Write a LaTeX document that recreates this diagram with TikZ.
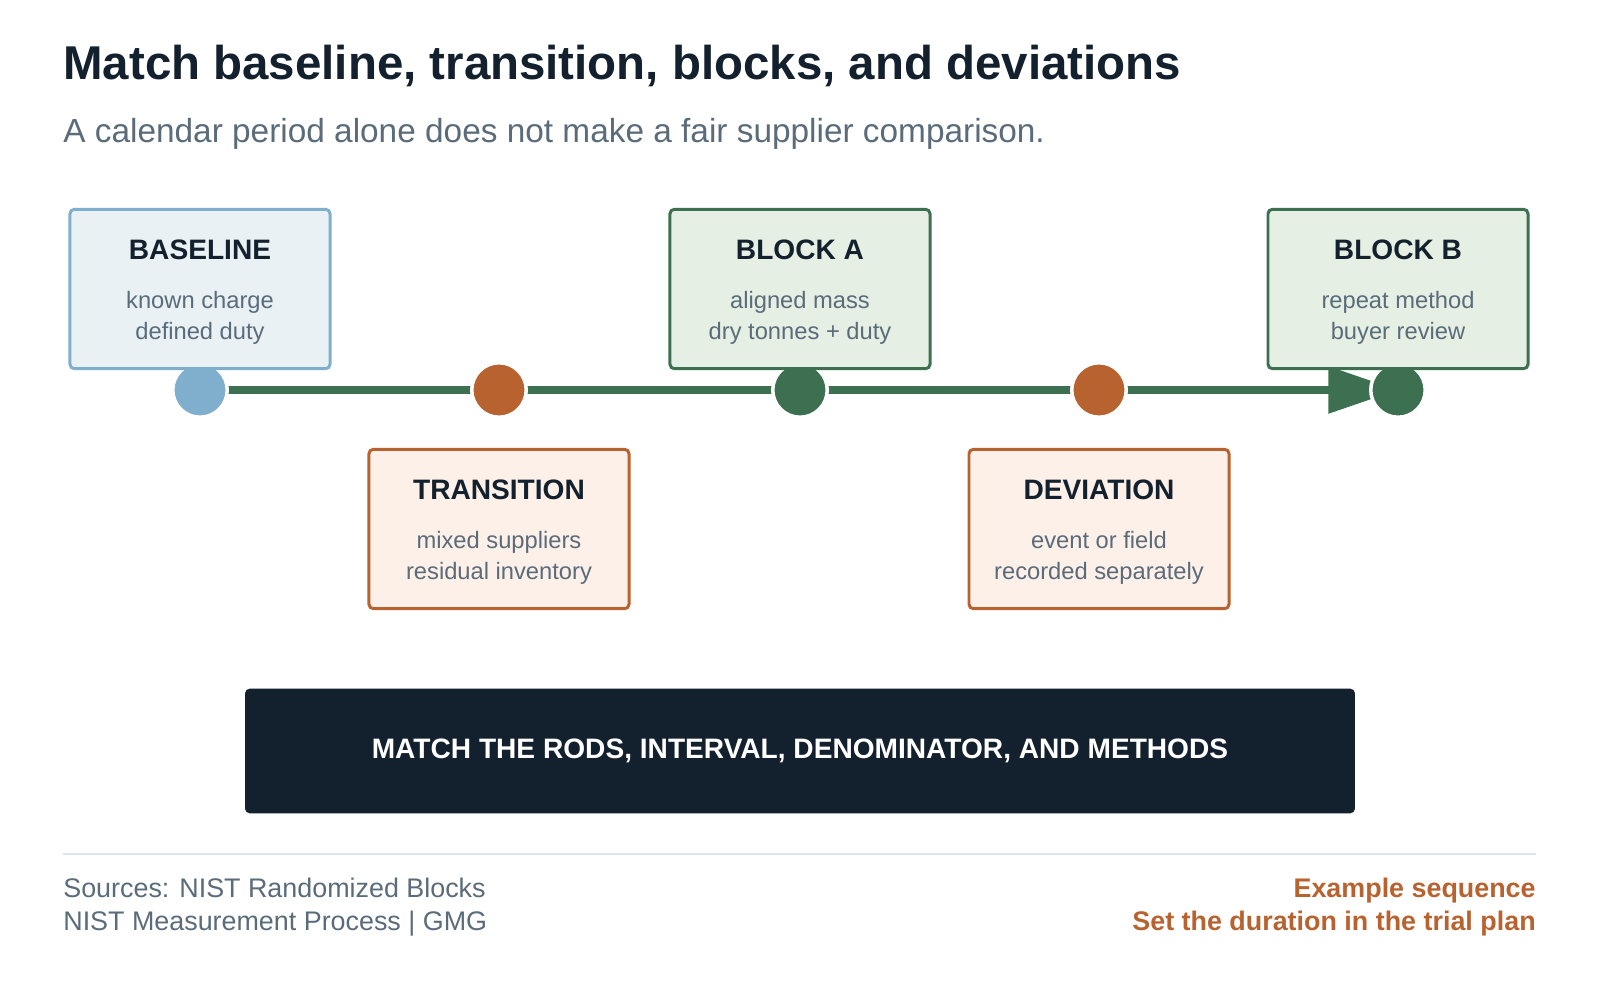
\documentclass[tikz,border=0pt]{standalone}
\usepackage{fontspec}
\setmainfont{Liberation Sans}
\usetikzlibrary{arrows.meta}
\definecolor{Ink}{HTML}{13202D}
\definecolor{Slate}{HTML}{5A6B7A}
\definecolor{SkyLine}{HTML}{7FAFCD}
\definecolor{SkyFill}{HTML}{E9F1F5}
\definecolor{LeafLine}{HTML}{3D7050}
\definecolor{LeafFill}{HTML}{E6EFE3}
\definecolor{RustLine}{HTML}{B8622F}
\definecolor{RustFill}{HTML}{FDF0E8}
\definecolor{Rule}{HTML}{DDE3EA}

\begin{document}
\begin{tikzpicture}[x=0.02cm, y=-0.02cm]
	\tikzset{every node/.style={inner sep=0pt},
		stage/.style={draw, line width=1.7pt, rounded corners=2.5pt, minimum width=148pt, minimum height=160*0.567pt},
		dot/.style={circle, draw=white, line width=2pt, minimum size=31pt},
		head/.style={font=\bfseries\fontsize{16}{19}\selectfont, text=Ink},
		body/.style={font=\fontsize{13.5}{18}\selectfont, text=Slate, align=center}};
	\useasboundingbox (0,0) rectangle (1600,1000);
	% heading
	\node [anchor=west, font=\bfseries\fontsize{27}{32}\selectfont, text=Ink] (title) at (63,66) {Match baseline, transition, blocks, and deviations};
	\node [anchor=west, font=\fontsize{19}{23}\selectfont, text=Slate] (subtitle) at (63,134) {A calendar period alone does not make a fair supplier comparison.};
	% timeline
	\coordinate (c1) at (200,390);
	\coordinate (c5) at (1398,390);
	\draw [LeafLine, line width=4pt, -{Triangle[length=39.7pt, width=26pt]}] (c1) -- (c5);
	% dots
	\node [dot, fill=SkyLine] (d1) at (c1) {};
	\node [dot, fill=RustLine] (d2) at (499,390) {};
	\node [dot, fill=LeafLine] (d3) at (800,390) {};
	\node [dot, fill=RustLine] (d4) at (1099,390) {};
	\node [dot, fill=LeafLine] (d5) at (c5) {};
	% stage boxes
	\node [stage, draw=SkyLine, fill=SkyFill] (base) at (200,289) {};
	\node [stage, draw=RustLine, fill=RustFill] (trans) at (499,529) {};
	\node [stage, draw=LeafLine, fill=LeafFill] (blka) at (800,289) {};
	\node [stage, draw=RustLine, fill=RustFill] (dev) at (1099,529) {};
	\node [stage, draw=LeafLine, fill=LeafFill] (blkb) at (1398,289) {};
	% box texts
	\node [head] (tbase) at (200,250) {BASELINE};
	\node [body] (bbase) at (200,318) {known charge\\defined duty};
	\node [head] (tblka) at (800,250) {BLOCK A};
	\node [body] (bblka) at (800,318) {aligned mass\\dry tonnes + duty};
	\node [head] (tblkb) at (1398,250) {BLOCK B};
	\node [body] (bblkb) at (1398,318) {repeat method\\buyer review};
	\node [head] (ttrans) at (499,490) {TRANSITION};
	\node [body] (btrans) at (499,558) {mixed suppliers\\residual inventory};
	\node [head] (tdev) at (1099,490) {DEVIATION};
	\node [body] (bdev) at (1099,558) {event or field\\recorded separately};
	% banner
	\node [fill=Ink, rounded corners=2.5pt, minimum width=1114*0.567pt, minimum height=125*0.567pt, text=white, font=\bfseries\fontsize{16}{19}\selectfont] (banner) at (800,751) {MATCH THE RODS, INTERVAL, DENOMINATOR, AND METHODS};
	% footer
	\draw [Rule, line width=1.3pt] (63,854) -- (1536,854);
	\node [anchor=west, align=left, font=\fontsize{15.3}{18.5}\selectfont, text=Slate] (src) at (63,907) {Sources: NIST Randomized Blocks\\NIST Measurement Process | GMG};
	\node [anchor=east, align=right, font=\bfseries\fontsize{15.3}{18.5}\selectfont, text=RustLine] (note) at (1536,907) {Example sequence\\Set the duration in the trial plan};
\end{tikzpicture}
\end{document}
